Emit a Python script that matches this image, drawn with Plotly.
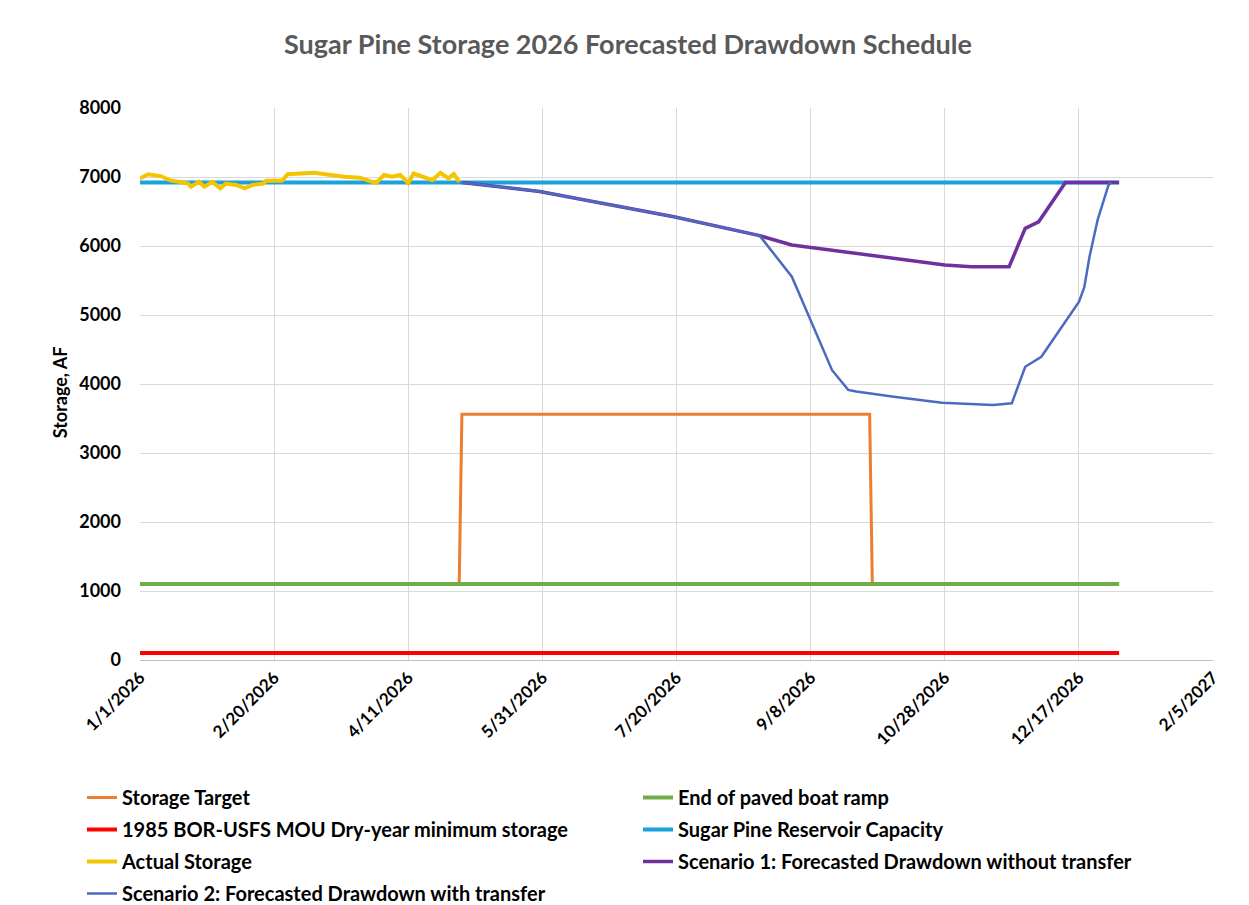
import plotly.graph_objects as go

# ---------------- data ----------------
actual_dates = ["2026-01-01", "2026-01-04", "2026-01-09", "2026-01-12", "2026-01-19", "2026-01-20",
                "2026-01-23", "2026-01-25", "2026-01-28", "2026-01-31", "2026-02-02", "2026-02-06",
                "2026-02-09", "2026-02-12", "2026-02-16", "2026-02-17", "2026-02-23", "2026-02-25",
                "2026-03-07", "2026-03-18", "2026-03-24", "2026-03-28", "2026-03-30", "2026-04-02",
                "2026-04-05", "2026-04-08", "2026-04-11", "2026-04-13", "2026-04-16", "2026-04-20",
                "2026-04-23", "2026-04-26", "2026-04-28", "2026-04-30"]
actual_vals = [6980, 7040, 7010, 6955, 6905, 6860,
               6930, 6860, 6930, 6835, 6905, 6885,
               6835, 6885, 6905, 6945, 6945, 7040,
               7060, 7005, 6990, 6945, 6910, 7030,
               7005, 7030, 6910, 7050, 7005, 6955,
               7060, 6980, 7045, 6930]

target_dates = ["2026-01-01", "2026-04-30", "2026-05-01", "2026-09-30", "2026-10-01", "2027-01-01"]
target_vals = [1100, 1100, 3560, 3560, 1100, 1100]

ramp_dates = ["2026-01-01", "2027-01-01"]
ramp_vals = [1100, 1100]

mou_dates = ["2026-01-01", "2027-01-01"]
mou_vals = [100, 100]

capacity_dates = ["2026-01-01", "2027-01-01"]
capacity_vals = [6921, 6921]

s1_dates = ["2026-05-01", "2026-05-30", "2026-07-19", "2026-08-20", "2026-09-01", "2026-09-20",
            "2026-10-09", "2026-10-28", "2026-11-07", "2026-11-21", "2026-11-27", "2026-12-02",
            "2026-12-12", "2027-01-01"]
s1_vals = [6921, 6790, 6425, 6150, 6015, 5920,
           5820, 5725, 5700, 5700, 6255, 6350,
           6921, 6921]

s2_dates = ["2026-05-01", "2026-05-30", "2026-07-19", "2026-08-20", "2026-09-01", "2026-09-11",
            "2026-09-16", "2026-09-22", "2026-09-25", "2026-10-09", "2026-10-27", "2026-11-15",
            "2026-11-22", "2026-11-27", "2026-12-03", "2026-12-17", "2026-12-19", "2026-12-21",
            "2026-12-24", "2026-12-28", "2026-12-29"]
s2_vals = [6921, 6790, 6425, 6150, 5555, 4640,
           4200, 3915, 3890, 3815, 3730, 3695,
           3720, 4250, 4395, 5190, 5400, 5850,
           6380, 6880, 6921]

x_tick_vals = ["2026-01-01", "2026-02-20", "2026-04-11", "2026-05-31", "2026-07-20",
               "2026-09-08", "2026-10-28", "2026-12-17", "2027-02-05"]
x_tick_text = ["1/1/2026", "2/20/2026", "4/11/2026", "5/31/2026", "7/20/2026",
               "9/8/2026", "10/28/2026", "12/17/2026", "2/5/2027"]
y_tick_vals = [0, 1000, 2000, 3000, 4000, 5000, 6000, 7000, 8000]
y_title = "Storage, AF"

# ---------------- figure ----------------
FONT = "Lato"
W, H = 1241, 897
fig = go.Figure()

def add(name, x, y, color, width, legend):
    fig.add_trace(go.Scatter(x=x, y=y, name="<b>%s</b>" % name, mode="lines",
                             line=dict(color=color, width=width),
                             legend=legend, legendgroup=name))

add("Storage Target", target_dates, target_vals, "#ED7D31", 3, "legend")
add("End of paved boat ramp", ramp_dates, ramp_vals, "#70AD47", 4, "legend2")
add("1985 BOR-USFS MOU Dry-year minimum storage", mou_dates, mou_vals, "#FF0000", 4, "legend")
add("Sugar Pine Reservoir Capacity", capacity_dates, capacity_vals, "#1BA1DC", 4, "legend2")
add("Actual Storage", actual_dates, actual_vals, "#F5C400", 4, "legend")
add("Scenario 1: Forecasted Drawdown without transfer", s1_dates, s1_vals, "#7030A0", 3.5, "legend2")
add("Scenario 2: Forecasted Drawdown with transfer", s2_dates, s2_vals, "#4A6CC0", 2.5, "legend")

legend_common = dict(orientation="v", xref="container", yref="container",
                     xanchor="left", yanchor="top", y=1 - 770 / H,
                     traceorder="grouped", tracegroupgap=3,
                     font=dict(size=20, family=FONT, color="#000000"),
                     bgcolor="rgba(0,0,0,0)", borderwidth=0)

fig.update_layout(
    width=W, height=H,
    paper_bgcolor="white", plot_bgcolor="white",
    margin=dict(l=132, r=36, t=100, b=245, autoexpand=False),
    font=dict(family=FONT, color="#000000"),
    title=dict(text="<b>Sugar Pine Storage 2026 Forecasted Drawdown Schedule</b>",
               x=0.4996, xanchor="center", y=1 - 37 / H, yanchor="middle",
               font=dict(size=27, color="#595959", family=FONT)),
    showlegend=True,
    legend=dict(legend_common, x=74 / W),
    legend2=dict(legend_common, x=630 / W),
    xaxis=dict(type="date", range=["2026-01-01", "2027-02-05"],
               tickmode="array", tickvals=x_tick_vals,
               ticktext=["<b>%s</b>" % t for t in x_tick_text],
               tickangle=-45, tickfont=dict(size=17, family=FONT),
               showgrid=True, gridcolor="#D9D9D9", gridwidth=1,
               showline=True, linecolor="#BFBFBF", linewidth=1,
               ticks="", zeroline=False),
    yaxis=dict(range=[0, 8000], tickmode="array", tickvals=y_tick_vals,
               ticktext=["<b>%d</b>" % v for v in y_tick_vals],
               tickfont=dict(size=18, family=FONT), ticklabelstandoff=18,
               showgrid=True, gridcolor="#D9D9D9", gridwidth=1,
               showline=False, zeroline=False, ticks=""),
    annotations=[dict(text="<b>%s</b>" % y_title, textangle=-90,
                      xref="paper", yref="paper", x=(52 - 132) / 1073, y=0.485,
                      xanchor="center", yanchor="middle", showarrow=False,
                      font=dict(size=18, family=FONT, color="#000000"))],
)

fig.write_html("out.html")
